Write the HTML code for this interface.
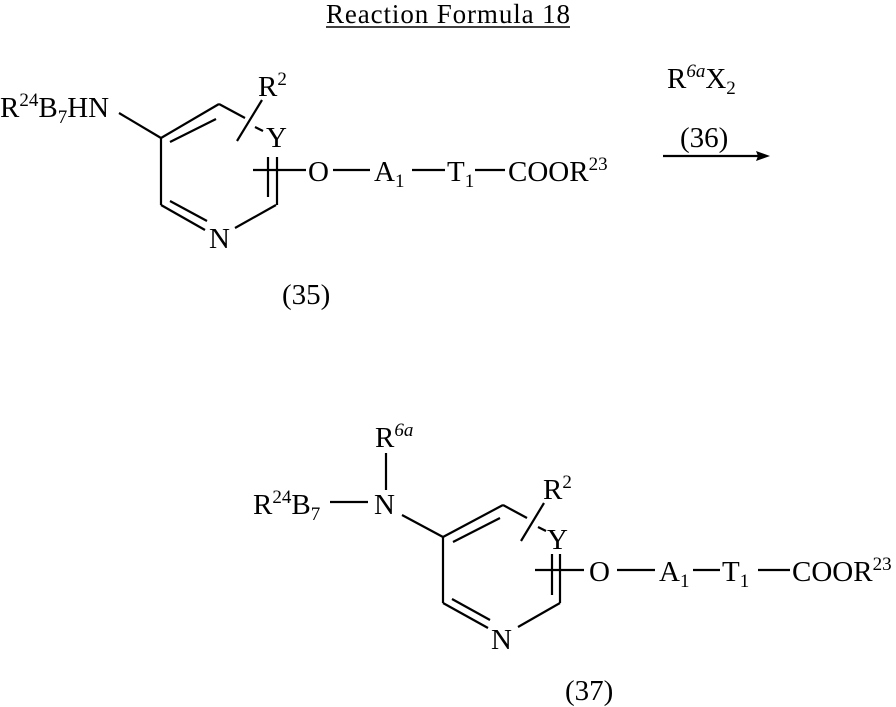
<!DOCTYPE html>
<html><head><style>
html,body{margin:0;padding:0;background:#fff;}
svg{display:block;}
text{font-family:"Liberation Serif",serif;font-size:29px;fill:#000;}
.s{font-size:19px;}
</style></head><body>
<svg width="896" height="707" viewBox="0 0 896 707" xmlns="http://www.w3.org/2000/svg">
<g stroke="#000" stroke-width="2.2" fill="none">
<line x1="326" y1="27" x2="570" y2="27" stroke-width="1.5"/>
<line x1="119" y1="113" x2="161" y2="138"/>
<line x1="161" y1="138" x2="219" y2="104"/>
<line x1="170" y1="142" x2="216" y2="119"/>
<line x1="219" y1="104" x2="245" y2="118"/>
<line x1="255" y1="127" x2="263" y2="131"/>
<line x1="262" y1="100" x2="237" y2="141"/>
<line x1="161" y1="138" x2="161" y2="205"/>
<line x1="161" y1="205" x2="205" y2="230"/>
<line x1="170" y1="201" x2="207" y2="221"/>
<line x1="276" y1="205" x2="235" y2="228"/>
<line x1="268" y1="157" x2="268" y2="197"/>
<line x1="277" y1="157" x2="277" y2="205"/>
<line x1="253" y1="170" x2="306" y2="170"/>
<line x1="333" y1="170" x2="370" y2="170"/>
<line x1="412" y1="170" x2="445" y2="170"/>
<line x1="475" y1="170" x2="505" y2="170"/>
<line x1="663" y1="156" x2="760" y2="156"/>
<line x1="386" y1="453" x2="386" y2="490"/>
<line x1="330" y1="502" x2="368" y2="502"/>
<line x1="402" y1="515" x2="443" y2="537"/>
<line x1="443" y1="537" x2="503" y2="505"/>
<line x1="453" y1="542" x2="500" y2="518"/>
<line x1="503" y1="505" x2="527" y2="518"/>
<line x1="538" y1="527" x2="546" y2="531"/>
<line x1="544" y1="503" x2="521" y2="541"/>
<line x1="443" y1="537" x2="443" y2="603"/>
<line x1="443" y1="603" x2="488" y2="628"/>
<line x1="452" y1="599" x2="490" y2="620"/>
<line x1="560" y1="603" x2="518" y2="627"/>
<line x1="552" y1="554" x2="552" y2="595"/>
<line x1="560" y1="554" x2="560" y2="603"/>
<line x1="535" y1="570" x2="584" y2="570"/>
<line x1="617" y1="570" x2="655" y2="570"/>
<line x1="693" y1="570" x2="720" y2="570"/>
<line x1="758" y1="570" x2="790" y2="570"/>
</g>
<polygon points="770,156 756,151 758,156 756,161" fill="#000"/>
<text x="448" y="23" text-anchor="middle" style="font-size:27px" textLength="244">Reaction Formula 18</text>
<text x="0" y="117">R<tspan class="s" dy="-11">24</tspan><tspan dy="11">B</tspan><tspan class="s" dy="6">7</tspan><tspan dy="-6">HN</tspan></text>
<text x="258" y="96">R<tspan class="s" dy="-11">2</tspan></text>
<text x="266" y="147">Y</text>
<text x="209" y="248">N</text>
<text x="308" y="181">O</text>
<text x="374" y="181">A<tspan class="s" dy="6">1</tspan></text>
<text x="447" y="181">T<tspan class="s" dy="6">1</tspan></text>
<text x="508" y="181">COOR<tspan class="s" dy="-11">23</tspan></text>
<text x="282" y="304">(35)</text>
<text x="667" y="88">R<tspan class="s" dy="-11" font-style="italic">6a</tspan><tspan dy="11">X</tspan><tspan class="s" dy="6">2</tspan></text>
<text x="680" y="147">(36)</text>
<text x="375" y="447">R<tspan class="s" dy="-11" font-style="italic">6a</tspan></text>
<text x="253" y="514">R<tspan class="s" dy="-11">24</tspan><tspan dy="11">B</tspan><tspan class="s" dy="6">7</tspan></text>
<text x="374" y="514">N</text>
<text x="543" y="499">R<tspan class="s" dy="-11">2</tspan></text>
<text x="547" y="549">Y</text>
<text x="491" y="649">N</text>
<text x="589" y="581">O</text>
<text x="659" y="581">A<tspan class="s" dy="6">1</tspan></text>
<text x="722" y="581">T<tspan class="s" dy="6">1</tspan></text>
<text x="792" y="581">COOR<tspan class="s" dy="-11">23</tspan></text>
<text x="565" y="700">(37)</text>
</svg>
</body></html>
